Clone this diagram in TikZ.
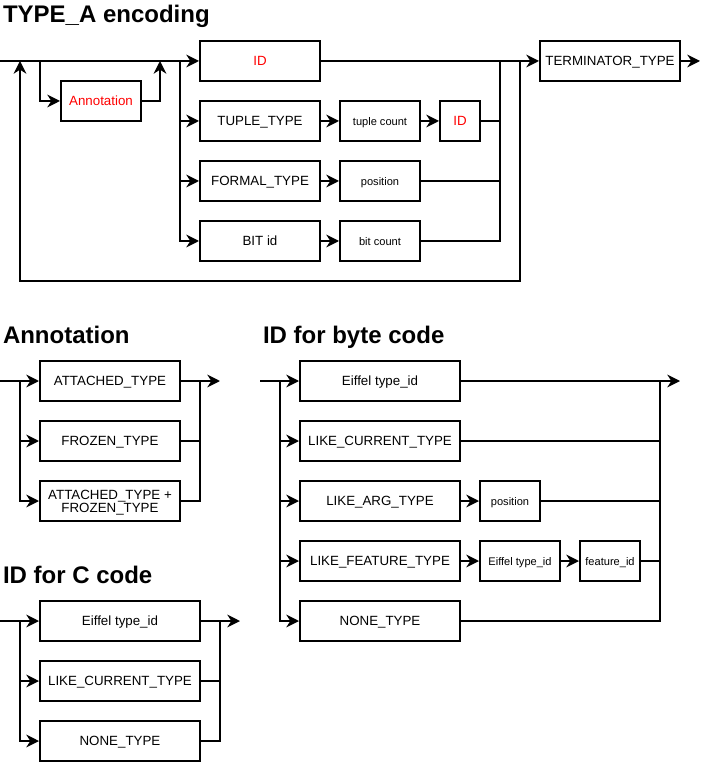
\documentclass[tikz,border=0pt]{standalone}
\usepackage{fontspec}
\setmainfont{Liberation Sans}
\usetikzlibrary{arrows.meta}
\begin{document}
\begin{tikzpicture}
  [x=0.75pt, y=-0.75pt, line width=1.5pt,
   boxbase/.style={draw, line width=1.5pt, minimum height=30pt, inner sep=1pt, text depth=0pt, font=\fontsize{10}{9.75}\selectfont},
   box/.style={boxbase, text height=0.72em},
   smallbox/.style={box, font=\fontsize{8.3}{9}\selectfont},
   redbox/.style={box, text=red},
   title/.style={anchor=base west, inner sep=0pt, font=\fontsize{18}{20}\selectfont\bfseries},
   flow/.style={-{Stealth[length=9.5pt, width=9.5pt, inset=3pt]}}]
  \useasboundingbox (0,0) rectangle (701,762);

  \node[title] (typea) at (2,23) {TYPE\_A encoding};
  \node[redbox, minimum width=90pt] (id) at (260,61) {ID};
  \node[redbox, minimum width=60pt] (ann) at (101,101) {Annotation};
  \node[box, minimum width=90pt] (tuple) at (260,121) {TUPLE\_TYPE};
  \node[smallbox, minimum width=60pt] (tcount) at (380,121) {tuple count};
  \node[redbox, minimum width=30pt] (tid) at (460,121) {ID};
  \node[box, minimum width=90pt] (formal) at (260,181) {FORMAL\_TYPE};
  \node[smallbox, minimum width=60pt] (fpos) at (380,181) {position};
  \node[box, minimum width=90pt] (bit) at (260,241) {BIT id};
  \node[smallbox, minimum width=60pt] (bcount) at (380,241) {bit count};
  \node[box, minimum width=105pt] (term) at (610,61) {TERMINATOR\_TYPE};
  \coordinate (tin) at (0,61);
  \coordinate (tloopup) at (20,61);
  \coordinate (tannsplit) at (40,61);
  \coordinate (tannjoin) at (160,61);
  \coordinate (tsplit) at (180,61);
  \coordinate (tjoin) at (500,61);
  \coordinate (tloopdown) at (520,61);
  \coordinate (tloopr) at (520,281);
  \coordinate (tloopl) at (20,281);
  \coordinate (tout) at (700,61);
  \draw[flow] (tin) -- (id);
  \draw[flow] (tannsplit) |- (ann);
  \draw[flow] (ann) -| (tannjoin);
  \draw[flow] (tsplit) |- (tuple);
  \draw[flow] (tsplit) |- (formal);
  \draw[flow] (tsplit) |- (bit);
  \draw[flow] (tuple) -- (tcount);
  \draw[flow] (tcount) -- (tid);
  \draw[flow] (formal) -- (fpos);
  \draw[flow] (bit) -- (bcount);
  \draw (tid) -| (tjoin);
  \draw (fpos) -| (tjoin);
  \draw (bcount) -| (tjoin);
  \draw[flow] (id) -- (term);
  \draw[flow] (tloopdown) -- (tloopr) -- (tloopl) -- (tloopup);
  \draw[flow] (term) -- (tout);

  \node[title] (annot) at (2,343) {Annotation};
  \node[box, minimum width=105pt] (att) at (110,381) {ATTACHED\_TYPE};
  \node[box, minimum width=105pt] (froz) at (110,441) {FROZEN\_TYPE};
  \node[boxbase, minimum width=105pt, align=center] (both) at (110,501) {ATTACHED\_TYPE +\\FROZEN\_TYPE};
  \coordinate (ain) at (0,381);
  \coordinate (asplit) at (20,381);
  \coordinate (ajoin) at (200,381);
  \coordinate (aout) at (220,381);
  \draw[flow] (ain) -- (att);
  \draw[flow] (asplit) |- (froz);
  \draw[flow] (asplit) |- (both);
  \draw (froz) -| (ajoin);
  \draw (both) -| (ajoin);
  \draw[flow] (att) -- (aout);

  \node[title] (ccode) at (2,583) {ID for C code};
  \node[box, minimum width=120pt] (ceif) at (120,621) {Eiffel type\_id};
  \node[box, minimum width=120pt] (clike) at (120,681) {LIKE\_CURRENT\_TYPE};
  \node[box, minimum width=120pt] (cnone) at (120,741) {NONE\_TYPE};
  \coordinate (cin) at (0,621);
  \coordinate (csplit) at (20,621);
  \coordinate (cjoin) at (220,621);
  \coordinate (cout) at (240,621);
  \draw[flow] (cin) -- (ceif);
  \draw[flow] (csplit) |- (clike);
  \draw[flow] (csplit) |- (cnone);
  \draw (clike) -| (cjoin);
  \draw (cnone) -| (cjoin);
  \draw[flow] (ceif) -- (cout);

  \node[title] (bcode) at (262,343) {ID for byte code};
  \node[box, minimum width=120pt] (beif) at (380,381) {Eiffel type\_id};
  \node[box, minimum width=120pt] (blike) at (380,441) {LIKE\_CURRENT\_TYPE};
  \node[box, minimum width=120pt] (barg) at (380,501) {LIKE\_ARG\_TYPE};
  \node[smallbox, minimum width=45pt] (bpos) at (510,501) {position};
  \node[box, minimum width=120pt] (bfeat) at (380,561) {LIKE\_FEATURE\_TYPE};
  \node[smallbox, minimum width=60pt] (bfeif) at (520,561) {Eiffel type\_id};
  \node[smallbox, minimum width=45pt] (bfid) at (610,561) {feature\_id};
  \node[box, minimum width=120pt] (bnone) at (380,621) {NONE\_TYPE};
  \coordinate (bin) at (260,381);
  \coordinate (bsplit) at (280,381);
  \coordinate (bjoin) at (660,381);
  \coordinate (bout) at (680,381);
  \draw[flow] (bin) -- (beif);
  \draw[flow] (bsplit) |- (blike);
  \draw[flow] (bsplit) |- (barg);
  \draw[flow] (bsplit) |- (bfeat);
  \draw[flow] (bsplit) |- (bnone);
  \draw[flow] (barg) -- (bpos);
  \draw[flow] (bfeat) -- (bfeif);
  \draw[flow] (bfeif) -- (bfid);
  \draw (blike) -| (bjoin);
  \draw (bpos) -| (bjoin);
  \draw (bfid) -| (bjoin);
  \draw (bnone) -| (bjoin);
  \draw[flow] (beif) -- (bout);
\end{tikzpicture}
\end{document}
